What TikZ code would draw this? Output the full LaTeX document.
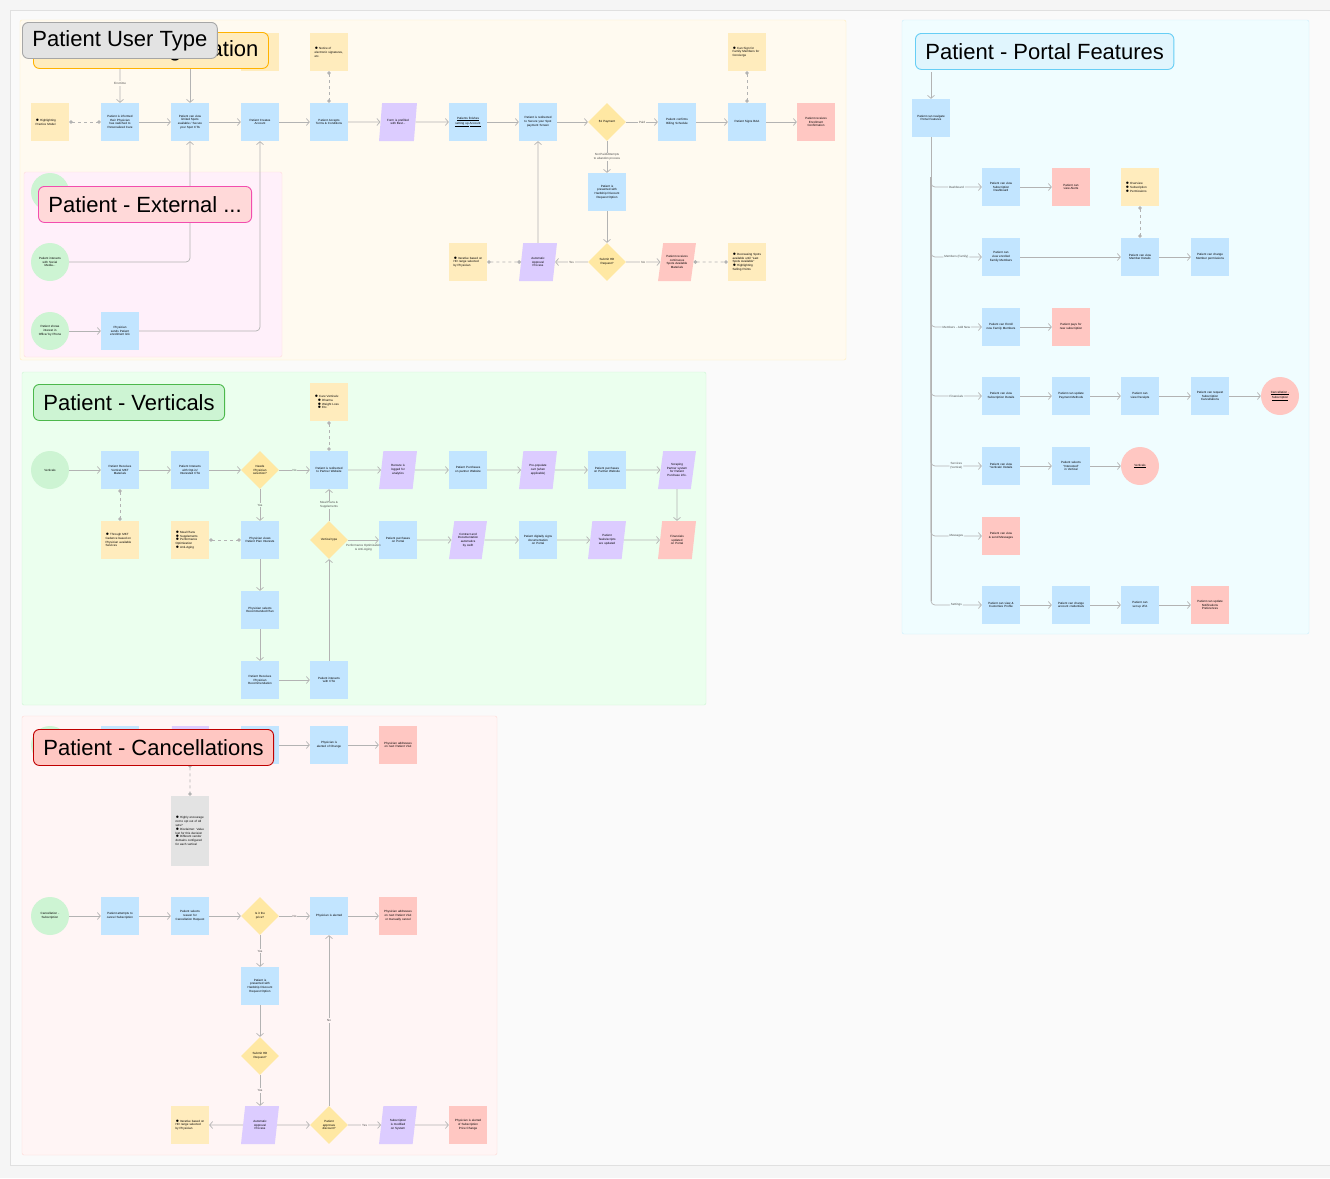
\documentclass[tikz,border=0pt]{standalone}
\usepackage{fontspec}
\setmainfont{Liberation Sans}
\usetikzlibrary{shapes.geometric,arrows.meta}
\hyphenpenalty=10000
\exhyphenpenalty=10000
\definecolor{bluebox}{HTML}{C2E5FF}
\definecolor{notebox}{HTML}{FFECBD}
\definecolor{purplebox}{HTML}{DCCCFF}
\definecolor{redbox}{HTML}{FFC7C2}
\definecolor{greenbox}{HTML}{CDF4D3}
\definecolor{diabox}{HTML}{FFE8A3}
\definecolor{graynote}{HTML}{E3E3E3}
\definecolor{linegray}{HTML}{B3B3B3}
\definecolor{secCream}{HTML}{FFFAF0}
\definecolor{secPink}{HTML}{FFF0FA}
\definecolor{secGreen}{HTML}{EBFFEE}
\definecolor{secRed}{HTML}{FFF5F5}
\definecolor{secCyan}{HTML}{F0FDFF}
\tikzset{
  base/.style={minimum width=38pt,minimum height=38pt,inner sep=1pt,
    text width=29pt,align=center,font=\fontsize{3}{3.8}\selectfont},
  box/.style={base,rectangle,fill=bluebox},
  rbox/.style={base,rectangle,fill=redbox},
  note/.style={base,rectangle,fill=notebox,align=left},
  para/.style={base,trapezium,trapezium left angle=74,trapezium right angle=106,
    trapezium stretches=true,fill=purplebox,text width=22pt},
  rpara/.style={para,fill=redbox},
  dia/.style={base,diamond,fill=diabox,text width=18pt},
  circ/.style={base,circle,fill=greenbox,text width=26pt},
  rcirc/.style={circ,fill=redbox},
  section/.style={rounded corners=2pt,line width=0.4pt},
  title/.style={rounded corners=6pt,line width=0.9pt,inner xsep=10pt,minimum height=36pt,
    anchor=north west,font=\fontsize{22}{26}\selectfont},
  arr/.style={draw=linegray,line width=0.7pt,-{Straight Barb[length=3pt,width=7pt]}},
  dashlink/.style={draw=linegray,line width=0.8pt,dashed,{Circle[length=3.5pt]}-{Circle[length=3.5pt]}},
  lbl/.style={font=\fontsize{3}{3.6}\selectfont,fill=bgcol,inner sep=1pt,align=center,text=black!70}
}
\begin{document}
\begin{tikzpicture}[x=1pt,y=-1pt]
\useasboundingbox (0,0) rectangle (1330,1178);
\fill[black!4] (0,0) rectangle (1330,1178);
\draw[black!12,fill=black!2] (10,10) rectangle (1330,1165);

% sections
\draw[section,fill=secCream,draw=notebox] (20,20) rectangle (846,360);
\draw[section,fill=secPink,draw=redbox!60] (24,172) rectangle (282,357);
\draw[section,fill=secGreen,draw=greenbox] (22,372) rectangle (706,705);
\draw[section,fill=secRed,draw=redbox!70] (22,716) rectangle (497,1155);
\draw[section,fill=secCyan,draw=cyan!20] (902,20) rectangle (1309,634);

% ---------------- enrollment
\colorlet{bgcol}{secCream}
\node[circ] (e0) at (50,45) {};
\node[para] (e1) at (120,45) {};
\node[box] (e2) at (190,45) {};
\node[note] (e3) at (260,52) {};
\node[note] (hpm) at (50,122) {$\bullet$ Highlighting Practice Model};
\node[box] (inf) at (120,122) {Patient is informed their Physician has switched to Personalized Care};
\node[box] (spot) at (190,122) {Patient can view limited Spots available / Secure your Spot CTA};
\node[box] (acct) at (260,122) {Patient Creates Account};
\node[box] (terms) at (329,122) {Patient Accepts Terms \& Conditions};
\node[note] (esig) at (329,52) {$\bullet$ Notice of electronic signatures, etc.};
\node[para] (form) at (398,122) {Form is prefilled with Best...};
\node[box] (fin) at (468,122) {\underline{Patients finishes} \underline{setting up} \underline{Account}};
\node[box] (pay) at (538,122) {Patient is redirected to Secure your Spot payment Screen};
\node[dia] (d1) at (607,122) {\$1 Payment};
\node[box] (bill) at (677,122) {Patient confirms Billing Schedule};
\node[box] (baa) at (747,122) {Patient Signs BAA};
\node[note] (fam) at (747,52) {$\bullet$ Can Sign for Family Members for Concierge};
\node[rbox] (conf) at (816,122) {Patient receives Enrollment Confirmation};
\node[box] (hd) at (607,192) {Patient is presented with Hardship Discount Request Option};
\node[dia] (d2) at (607,262) {Submit HD Request?};
\node[para] (auto) at (538,262) {Automatic Approval Process};
\node[note] (iter) at (468,262) {$\bullet$ Iterative based on HD range selected by Physician};
\node[rpara] (cont) at (677,262) {Patient receives continuous Spots Available Materials};
\node[note] (decr) at (747,262) {$\bullet$ Decreasing Spots available until ``Last Spots Available'' \par$\bullet$ Highlighting Selling Points};

\draw[dashlink] (hpm) -- (inf);
\draw[arr] (e1) -- node[lbl] {First time} (inf);
\draw[arr] (e2) -- (spot);
\draw[arr] (inf) -- (spot);
\draw[arr] (spot) -- (acct);
\draw[arr] (acct) -- (terms);
\draw[dashlink] (esig) -- (terms);
\draw[arr] (terms) -- (form);
\draw[arr] (form) -- (fin);
\draw[arr] (fin) -- (pay);
\draw[arr] (pay) -- (d1);
\draw[arr] (d1) -- node[lbl] {Paid} (bill);
\draw[arr] (bill) -- (baa);
\draw[dashlink] (fam) -- (baa);
\draw[arr] (baa) -- (conf);
\draw[arr] (d1) -- node[lbl] {Not Paid/Attempts\\to abandon process} (hd);
\draw[arr] (hd) -- (d2);
\draw[arr] (d2) -- node[lbl] {Yes} (auto);
\draw[arr] (auto) -- (pay);
\draw[dashlink] (iter) -- (auto);
\draw[arr] (d2) -- node[lbl] {No} (cont);
\draw[dashlink] (cont) -- (decr);

% ---------------- external
\colorlet{bgcol}{secPink}
\node[circ] (x0) at (50,192) {};
\node[circ] (soc) at (50,262) {Patient interacts with Social Media...};
\node[circ] (off) at (50,331) {Patient shows interest in Office/ by Phone};
\node[box] (link) at (120,331) {Physician sends Patient enrollment link};
\draw[arr,rounded corners=4pt] (soc) -| (spot);
\draw[arr] (off) -- (link);
\draw[arr,rounded corners=4pt] (link) -| (acct);

% ---------------- verticals
\colorlet{bgcol}{secGreen}
\node[circ] (vert) at (50,470) {Verticals};
\node[box] (mkt) at (120,470) {Patient Receives Vertical MKT Materials};
\node[note] (cad) at (120,540) {$\bullet$ Through MKT Cadence based on Physician available Services};
\node[box] (optin) at (190,470) {Patient Interacts with Opt-in/ Interested CTA};
\node[dia] (need) at (260,470) {Needs Physician selection?};
\node[box] (redir) at (329,470) {Patient is redirected to Partner Website};
\node[note] (care) at (329,402) {$\bullet$ Care Verticals:\par\hspace{3pt}$\bullet$ Dharma\par\hspace{3pt}$\bullet$ Weight Loss\par\hspace{3pt}$\bullet$ Etc.};
\node[para] (rer) at (398,470) {Reroute is logged for analytics};
\node[box] (ppw) at (468,470) {Patient Purchases on partner Website};
\node[para] (prep) at (538,470) {Pre-populate cart (when applicable)};
\node[box] (ppw2) at (607,470) {Patient purchases on Partner Website};
\node[para] (scr) at (677,470) {Scraping Partner system for Patient Purchase info.};
\node[note] (plans) at (190,540) {$\bullet$ Meal Plans\par$\bullet$ Supplements\par$\bullet$ Performance Optimization\par$\bullet$ Anti-Aging};
\node[box] (pview) at (260,540) {Physician views Patient Plan Interests};
\node[box] (psel) at (260,610) {Physician selects Recommended Plan};
\node[box] (prec) at (260,680) {Patient Receives Physician Recommendation};
\node[box] (pcta) at (329,680) {Patient interacts with CTA};
\node[dia] (vtype) at (329,540) {Vertical type};
\node[box] (portal) at (398,540) {Patient purchases on Portal};
\node[para] (contr) at (468,540) {Contract and Documentation automatics by swift};
\node[box] (sign) at (538,540) {Patient digitally signs documentation on Portal};
\node[para] (tasks) at (607,540) {Patient Tasks/scripts are updated};
\node[rpara] (finp) at (677,540) {Financials updated on Portal};

\draw[arr] (vert) -- (mkt);
\draw[dashlink] (mkt) -- (cad);
\draw[arr] (mkt) -- (optin);
\draw[arr] (optin) -- (need);
\draw[arr] (need) -- node[lbl] {No} (redir);
\draw[dashlink] (care) -- (redir);
\draw[arr] (redir) -- (rer);
\draw[arr] (rer) -- (ppw);
\draw[arr] (ppw) -- (prep);
\draw[arr] (prep) -- (ppw2);
\draw[arr] (ppw2) -- (scr);
\draw[arr] (scr) -- (finp);
\draw[arr] (need) -- node[lbl] {Yes} (pview);
\draw[dashlink] (plans) -- (pview);
\draw[arr] (pview) -- (psel);
\draw[arr] (psel) -- (prec);
\draw[arr] (prec) -- (pcta);
\draw[arr] (pcta) -- (vtype);
\draw[arr] (vtype) -- node[lbl] {Meal Plans \&\\Supplements} (redir);
\draw[arr] (vtype) -- node[lbl,below=3pt,fill=none] {Performance Optimization\\\& Anti-Aging} (portal);
\draw[arr] (portal) -- (contr);
\draw[arr] (contr) -- (sign);
\draw[arr] (sign) -- (tasks);
\draw[arr] (tasks) -- (finp);

% ---------------- cancellations
\colorlet{bgcol}{secRed}
\node[circ] (c0) at (50,745) {};
\node[box] (c1) at (120,745) {};
\node[para] (c2) at (190,745) {};
\node[box] (c3) at (260,745) {};
\node[box] (alch) at (329,745) {Physician is alerted of Change};
\node[rbox] (addr) at (398,745) {Physician addresses on next Patient Visit};
\node[note,fill=graynote,minimum height=70pt] (hen) at (190,831) {$\bullet$ Highly encourage not to opt out of All sets?\par$\bullet$ Disclaimer: Value lost for this decision\par$\bullet$ Different vendor domains configured for each vertical};
\node[circ] (csub) at (50,916) {Cancellation - Subscription};
\node[box] (att) at (120,916) {Patient attempts to cancel Subscription};
\node[box] (reas) at (190,916) {Patient selects reason for Cancellation Request};
\node[dia] (price) at (260,916) {Is it the price?};
\node[box] (alrt) at (329,916) {Physician is alerted};
\node[rbox] (addr2) at (398,916) {Physician addresses on next Patient Visit or manually cancel};
\node[box] (hd2) at (260,986) {Patient is presented with Hardship Discount Request Option};
\node[dia] (sub2) at (260,1056) {Submit HD Request?};
\node[para] (auto2) at (260,1125) {Automatic Approval Process};
\node[note] (iter2) at (190,1125) {$\bullet$ Iterative based on HD range selected by Physician};
\node[dia] (appr) at (329,1125) {Patient approves discount?};
\node[para] (mod) at (398,1125) {Subscription is modified on System};
\node[rbox] (pchg) at (468,1125) {Physician is alerted of Subscription Price Change};

\draw[arr] (c3) -- (alch);
\draw[arr] (alch) -- (addr);
\draw[dashlink] (c2) -- (hen);
\draw[arr] (csub) -- (att);
\draw[arr] (att) -- (reas);
\draw[arr] (reas) -- (price);
\draw[arr] (price) -- node[lbl] {No} (alrt);
\draw[arr] (alrt) -- (addr2);
\draw[arr] (price) -- node[lbl] {Yes} (hd2);
\draw[arr] (hd2) -- (sub2);
\draw[arr] (sub2) -- node[lbl] {Yes} (auto2);
\draw[arr] (auto2) -- (iter2);
\draw[arr] (auto2) -- (appr);
\draw[arr] (appr) -- node[lbl] {No} (alrt);
\draw[arr] (appr) -- node[lbl] {Yes} (mod);
\draw[arr] (mod) -- (pchg);

% ---------------- portal
\colorlet{bgcol}{secCyan}
\coordinate (top) at (931,72);
\node[box] (nav) at (931,118) {Patient can navigate Portal Features};
\node[box] (dsh) at (1001,187) {Patient can view Subscription Dashboard};
\node[rbox] (alerts) at (1071,187) {Patient can view Alerts};
\node[note] (ovw) at (1140,187) {$\bullet$ Overview\par$\bullet$ Subscription\par$\bullet$ Permissions};
\node[box] (enr) at (1001,257) {Patient can view enrolled Family Members};
\node[box] (mdet) at (1140,257) {Patient can view Member Details};
\node[box] (mperm) at (1210,257) {Patient can change Member permissions};
\node[box] (newm) at (1001,327) {Patient can Enroll new Family Members};
\node[rbox] (newp) at (1071,327) {Patient pays for new subscription};
\node[box] (sdet) at (1001,396) {Patient can view Subscription Details};
\node[box] (paym) at (1071,396) {Patient can update Payment Methods};
\node[box] (rcpt) at (1140,396) {Patient can view Receipts};
\node[box] (req) at (1210,396) {Patient can request Subscription Cancellations};
\node[rcirc] (canc) at (1280,396) {\underline{Cancellation -} \underline{Subscription}};
\node[box] (vdet) at (1001,466) {Patient can view `Verticals' Details};
\node[box] (intr) at (1071,466) {Patient selects ``Interested'' in Vertical};
\node[rcirc] (vcirc) at (1140,466) {\underline{Verticals}};
\node[rbox] (msg) at (1001,536) {Patient can view \& send Messages};
\node[box] (prof) at (1001,605) {Patient can view \& Customize Profile};
\node[box] (cred) at (1071,605) {Patient can change account credentials};
\node[box] (tfa) at (1140,605) {Patient can set up 2FA};
\node[rbox] (notif) at (1210,605) {Patient can update Notifications Preferences};

\draw[arr] (top) -- (nav);
\draw[draw=linegray,line width=0.7pt] (nav.south) -- (931,601);
\foreach \tgt/\txt in {dsh/Dashboard, enr/Members (Family), newm/Members - Add New,
  sdet/Financials, vdet/{Services\\(Vertical)}, msg/Messages, prof/Settings}
  \draw[arr,rounded corners=4pt] (nav.south) ++(0,40) |- node[lbl,pos=0.75] {\txt} (\tgt);
\draw[arr] (dsh) -- (alerts);
\draw[dashlink] (ovw) -- (mdet);
\draw[arr] (enr) -- (mdet);
\draw[arr] (mdet) -- (mperm);
\draw[arr] (newm) -- (newp);
\draw[arr] (sdet) -- (paym);
\draw[arr] (paym) -- (rcpt);
\draw[arr] (rcpt) -- (req);
\draw[arr] (req) -- (canc);
\draw[arr] (vdet) -- (intr);
\draw[arr] (intr) -- (vcirc);
\draw[arr] (prof) -- (cred);
\draw[arr] (cred) -- (tfa);
\draw[arr] (tfa) -- (notif);

% titles
\node[title,fill=notebox,draw=orange!60!yellow,text width=215pt,align=right] (tEnr) at (33,32)
  {Patient - Registration};
\node[title,fill=graynote,draw=black!35] (tUser) at (22,22) {Patient User Type};
\node[title,fill=pink!60,draw=magenta!70] (tExt) at (38,186) {Patient - External ...};
\node[title,fill=greenbox,draw=green!60!black!70] (tVert) at (33,384) {Patient - Verticals};
\node[title,fill=redbox,draw=red!75!black] (tCanc) at (33,729) {Patient - Cancellations};
\node[title,fill=cyan!12,draw=cyan!60] (tPort) at (915,33) {Patient - Portal Features};
\end{tikzpicture}
\end{document}
